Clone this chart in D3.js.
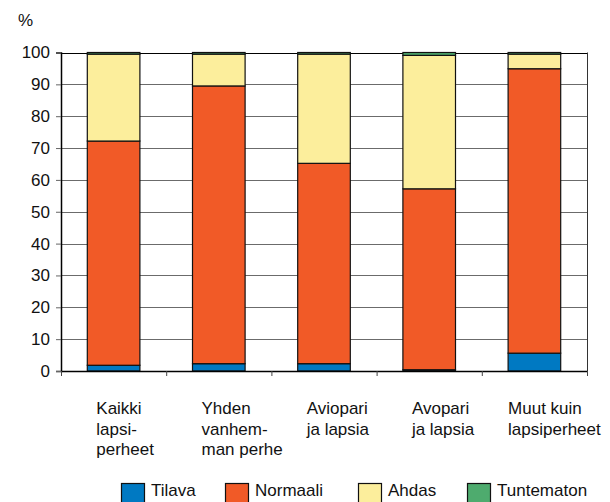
<!DOCTYPE html>
<html>
<head>
<meta charset="utf-8">
<script src="https://cdn.jsdelivr.net/npm/d3@7"></script>
<style>
  html, body { margin: 0; padding: 0; background: #fff; }
  svg { display: block; font-family: "Liberation Sans", Arial, sans-serif; }
</style>
</head>
<body>
<svg id="chart" width="610" height="502"></svg>
<script>
// ---- data ----
const categories = ["Kaikki lapsiperheet", "Yhden vanhemman perhe", "Aviopari ja lapsia", "Avopari ja lapsia", "Muut kuin lapsiperheet"];
const categoryLabelLines = [
  ["Kaikki", "lapsi-", "perheet"],
  ["Yhden", "vanhem-", "man perhe"],
  ["Aviopari", "ja lapsia"],
  ["Avopari", "ja lapsia"],
  ["Muut kuin", "lapsiperheet"]
];
const seriesNames = ["Tilava", "Normaali", "Ahdas", "Tuntematon"];
const tilava     = [1.8, 2.3, 2.3, 0.4, 5.6];
const normaali   = [70.4, 87.2, 62.9, 56.8, 89.3];
const ahdas      = [27.3, 10.0, 34.3, 41.9, 4.6];
const tuntematon = [0.5, 0.5, 0.5, 0.9, 0.5];
const yTicks = [0, 10, 20, 30, 40, 50, 60, 70, 80, 90, 100];
const colors = ["#0079C2", "#F15A27", "#FCEE9C", "#4EAB6E"];

// ---- build table ----
const seriesValues = [tilava, normaali, ahdas, tuntematon];
const rows = categories.map((c, i) => {
  const r = { category: c };
  seriesNames.forEach((s, j) => r[s] = seriesValues[j][i]);
  return r;
});

const svg = d3.select("#chart");
const pLeft = 61, pRight = 587, pTop = 52.5, pBottom = 371;
const FS = 17;

const x = d3.scaleBand().domain(categories).range([pLeft, pRight]).paddingInner(0.5).paddingOuter(0.25);
const y = d3.scaleLinear().domain([0, 100]).range([pBottom, pTop]);
const color = d3.scaleOrdinal().domain(seriesNames).range(colors);

// gridlines
svg.append("g").selectAll("line").data(yTicks.filter(t => t > 0 && t < 100)).join("line")
  .attr("x1", pLeft).attr("x2", pRight)
  .attr("y1", d => Math.round(y(d)) + 0.5).attr("y2", d => Math.round(y(d)) + 0.5)
  .attr("stroke", "#6b6b6b").attr("stroke-width", 1);

// frame top and right
svg.append("line").attr("x1", pLeft).attr("x2", pRight).attr("y1", Math.round(y(100)) + 0.5).attr("y2", Math.round(y(100)) + 0.5).attr("stroke", "#000");
svg.append("line").attr("x1", pRight + 0.5).attr("x2", pRight + 0.5).attr("y1", y(100)).attr("y2", y(0)).attr("stroke", "#333");

// bars
const stacked = d3.stack().keys(seriesNames)(rows);
svg.append("g").selectAll("g").data(stacked).join("g")
  .attr("fill", d => color(d.key))
  .selectAll("rect").data(d => d).join("rect")
  .attr("x", d => x(d.data.category))
  .attr("width", x.bandwidth())
  .attr("y", d => y(d[1]))
  .attr("height", d => y(d[0]) - y(d[1]))
  .attr("stroke", "#111").attr("stroke-width", 1.2);

// y axis
const yAxis = d3.axisLeft(y).tickValues(yTicks).tickSize(5).tickPadding(6);
const gy = svg.append("g").attr("transform", `translate(${pLeft},0)`).call(yAxis);
gy.select(".domain").attr("stroke", "#000").attr("stroke-width", 1.5);
gy.selectAll(".tick line").attr("stroke", "#666");
gy.selectAll("text").attr("font-size", FS).attr("fill", "#111").attr("font-family", "Liberation Sans, Arial, sans-serif");

// x axis (ticks at band boundaries)
const xb = d3.scaleLinear().domain([0, categories.length]).range([pLeft, pRight]);
const xAxis = d3.axisBottom(xb).tickValues(d3.range(categories.length + 1)).tickFormat("").tickSize(5).tickSizeOuter(0);
const gx = svg.append("g").attr("transform", `translate(0,${pBottom})`).call(xAxis);
gx.select(".domain").attr("stroke", "#000").attr("stroke-width", 1.5);
gx.selectAll(".tick line").attr("stroke", "#444");

// category labels
categories.forEach((c, i) => {
  const t = svg.append("text")
    .attr("x", x(c) + 9).attr("y", 414)
    .attr("font-size", FS).attr("fill", "#111");
  categoryLabelLines[i].forEach((line, k) => {
    t.append("tspan").attr("x", x(c) + 9).attr("dy", k === 0 ? 0 : 20.5).text(line);
  });
  const w = t.node().getBBox().width;
  const maxRight = 601;
  if (x(c) + 9 + w > maxRight) {
    const nx = maxRight - w;
    t.selectAll("tspan").attr("x", nx);
  }
});

// "%" unit label
svg.append("text").attr("x", 18).attr("y", 26).attr("font-size", FS).attr("fill", "#111").text("%");

// legend
const legendX = [121, 225, 358, 467];
const lg = svg.append("g").selectAll("g").data(seriesNames).join("g")
  .attr("transform", (d, i) => `translate(${legendX[i]},483)`);
lg.append("rect").attr("x", 0.5).attr("y", 0.5).attr("width", 23).attr("height", 22)
  .attr("fill", d => color(d)).attr("stroke", "#111").attr("stroke-width", 1.2);
lg.append("text").attr("x", 30).attr("y", 13).attr("font-size", FS).attr("fill", "#111").text(d => d);
</script>
</body>
</html>
